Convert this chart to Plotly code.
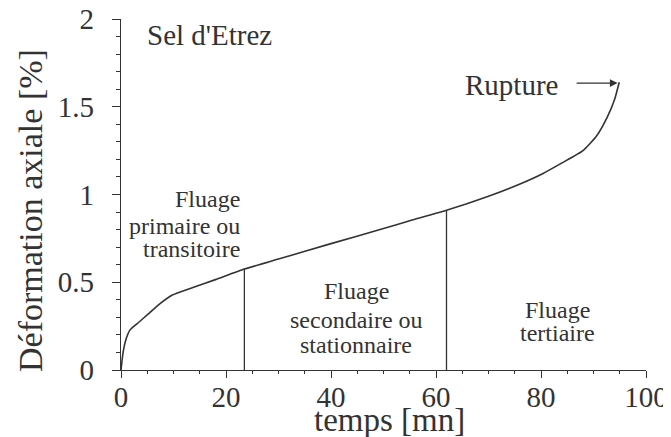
import plotly.graph_objects as go

# data
temps = [0, 0.4, 0.9, 1.7, 2.5, 3.5, 5.2, 7.5, 9.7, 13.7, 18, 23.5, 30, 40, 50, 55, 62, 70, 76, 80.4, 84, 88, 90.5, 92.6, 94, 94.9]
deformation = [0, 0.10, 0.17, 0.227, 0.25, 0.275, 0.32, 0.38, 0.426, 0.47, 0.515, 0.575, 0.632, 0.72, 0.806, 0.85, 0.91, 0.99, 1.06, 1.12, 1.18, 1.25, 1.33, 1.44, 1.54, 1.64]
limites_t = [23.5, 62]
limites_d = [0.575, 0.91]
x_ticks = [0, 20, 40, 60, 80, 100]
y_ticks = [0, 0.5, 1, 1.5, 2]
y_ticklabels = ["0", "0.5", "1", "1.5", "2"]

# phase labels (one entry per text line)
phase_primaire = ["Fluage", "primaire ou", "transitoire"]
phase_secondaire = ["Fluage", "secondaire ou", "stationnaire"]
phase_tertiaire = ["Fluage", "tertiaire"]

FONT = "Liberation Serif, Times New Roman, serif"
INK = "#333333"

fig = go.Figure()
fig.add_trace(go.Scatter(x=temps, y=deformation, mode="lines",
                         line=dict(color=INK, width=1.6, shape="spline", smoothing=0.5),
                         showlegend=False, hoverinfo="skip"))
for t, d in zip(limites_t, limites_d):
    fig.add_trace(go.Scatter(x=[t, t], y=[0, d], mode="lines",
                             line=dict(color=INK, width=1.3), showlegend=False, hoverinfo="skip"))

fig.update_layout(
    width=663, height=429,
    margin=dict(l=113, r=25, t=11, b=67),
    paper_bgcolor="white", plot_bgcolor="white",
    font=dict(family=FONT, color=INK),
    xaxis=dict(range=[0, 100], tickvals=x_ticks, showgrid=False, zeroline=False, automargin=False,
               showline=True, linecolor=INK, linewidth=1.3,
               ticks="outside", ticklen=7, tickcolor=INK, tickwidth=1.2,
               ticklabelstandoff=-6, ticklabeloverflow="allow",
               tickfont=dict(size=29, family=FONT, color=INK),
               minor=dict(dtick=5, ticks="outside", ticklen=3, tickcolor=INK)),
    yaxis=dict(range=[0, 2], tickvals=y_ticks, ticktext=y_ticklabels, showgrid=False, zeroline=False, automargin=False,
               showline=True, linecolor=INK, linewidth=1.3,
               ticks="outside", ticklen=8, tickcolor=INK, tickwidth=1.2,
               ticklabelstandoff=12, ticklabeloverflow="allow",
               tickfont=dict(size=29, family=FONT, color=INK),
               minor=dict(dtick=0.1, ticks="outside", ticklen=4, tickcolor=INK)),
)

# axis titles
fig.add_annotation(x=(389 - 121) / 525, y=-50 / 351, xref="paper", yref="paper", text="temps [mn]",
                   showarrow=False, xanchor="center", yanchor="middle",
                   font=dict(size=33, family=FONT, color=INK))
fig.add_annotation(x=-91 / 525, y=(370 - 211) / 351, xref="paper", yref="paper",
                   text="Déformation axiale [%]", showarrow=False, textangle=-90,
                   xanchor="center", yanchor="middle",
                   font=dict(size=34, family=FONT, color=INK))

fig.add_annotation(x=4.5, y=1.91, xref="x", yref="y", text="Sel d'Etrez", showarrow=False,
                   xanchor="left", font=dict(size=29, family=FONT, color=INK))
fig.add_annotation(x=94.6, y=1.635, ax=86.5, ay=1.635, xref="x", yref="y", axref="x", ayref="y",
                   text="", showarrow=True, arrowhead=2, arrowsize=1.2, arrowwidth=1.3, arrowcolor=INK,
                   standoff=0, startstandoff=0)
fig.add_annotation(x=74.3, y=1.625, xref="x", yref="y", text="Rupture", showarrow=False,
                   font=dict(size=29, family=FONT, color=INK))


def phase_text(lines, x, ys, anchor):
    for line, yy in zip(lines, ys):
        fig.add_annotation(x=x, y=yy, xref="x", yref="y", text=line, showarrow=False,
                           xanchor=anchor, yanchor="middle",
                           font=dict(size=24, family=FONT, color=INK))


phase_text(phase_primaire, 23.0, [0.975, 0.82, 0.69], "right")
phase_text(phase_secondaire, 44.8, [0.45, 0.285, 0.145], "center")
phase_text(phase_tertiaire, 83.2, [0.34, 0.21], "center")

fig.write_html("out.html")
